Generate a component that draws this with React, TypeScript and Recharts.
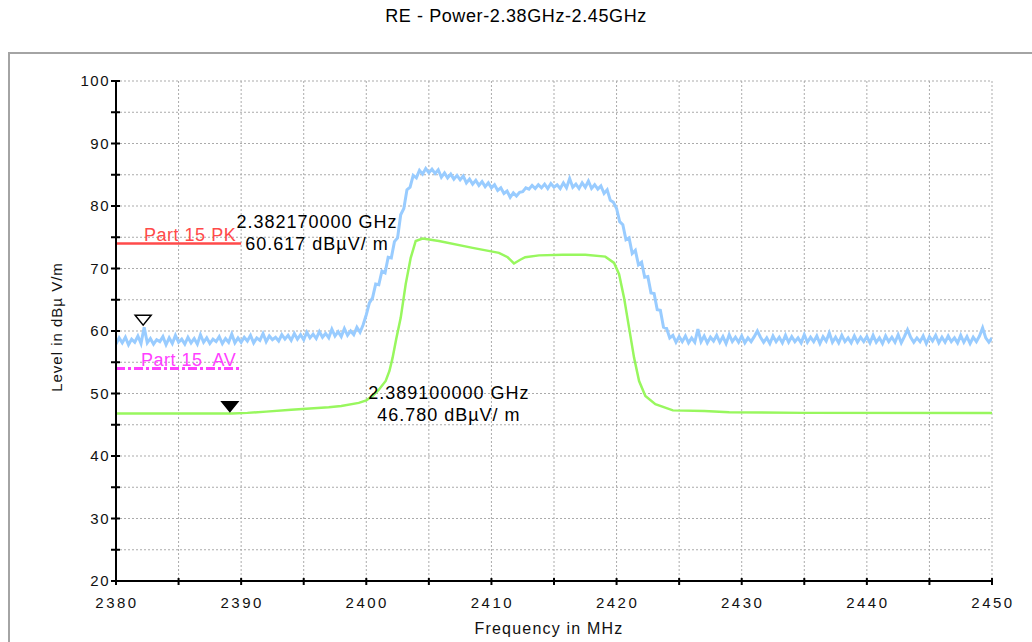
import React from 'react'
import {
  LineChart,
  Line,
  XAxis,
  YAxis,
  CartesianGrid,
  ReferenceLine,
  ReferenceDot
} from 'recharts'

// sweep grid of the peak detector trace
const FREQ_START = 2380
const FREQ_STEP = 0.25

// peak trace (dBµV/m), one value per 0.25 MHz, 2380 .. 2450
const PEAK_LEVELS = [
  57.9, 58.9, 58.1, 59.0, 57.8, 58.7, 58.2, 59.2,
  58.0, 60.6, 58.1, 58.8, 57.9, 58.6, 58.3, 59.1,
  57.8, 58.9, 58.0, 59.3, 58.2, 58.7, 57.9, 59.0,
  58.1, 58.8, 57.9, 59.4, 58.2, 58.9, 58.0, 58.7,
  58.3, 59.1, 58.0, 58.8, 58.2, 59.5, 58.1, 58.9,
  58.2, 59.0, 58.4, 59.3, 58.1, 58.9, 58.5, 59.6,
  58.3, 59.2, 58.6, 59.0, 58.4, 59.4, 58.7, 59.3,
  58.5, 59.6, 58.7, 59.4, 58.6, 59.8, 58.9, 59.5,
  58.8, 59.9, 59.0, 59.6, 58.9, 60.3, 59.2, 59.9,
  59.1, 60.4, 59.3, 60.0, 59.4, 60.6, 59.8, 61.0,
  62.6, 64.5, 65.3, 67.5, 67.4, 69.6, 69.3, 71.8,
  71.7, 74.3, 74.9, 78.6, 79.6, 82.6, 83.0, 84.9,
  84.5, 85.7, 85.1, 86.0, 85.3, 85.9, 85.2, 85.8,
  84.6, 85.3, 84.5, 85.1, 84.3, 84.9, 84.2, 84.8,
  83.7, 84.3, 83.5, 84.1, 83.3, 83.9, 83.1, 83.7,
  82.9, 83.4, 82.5, 82.9, 82.0, 82.4, 81.4, 82.1,
  81.6, 82.2, 82.3, 82.9, 82.7, 83.3, 82.8, 83.4,
  82.9, 83.5, 82.8, 83.6, 83.0, 83.4, 82.8, 83.7,
  82.9, 84.4, 83.0, 83.5, 82.8, 83.7, 83.0, 84.0,
  82.8, 83.4, 82.7, 83.2, 82.0, 82.6, 80.9, 80.6,
  79.6, 77.5, 77.0, 74.6, 74.9, 72.4, 72.9, 70.6,
  71.0, 68.6, 68.7, 66.1, 66.0, 63.4, 63.3, 60.6,
  60.4, 58.9, 59.3, 58.2, 59.1, 58.3, 59.2, 58.1,
  58.9, 58.2, 60.3, 58.3, 59.2, 58.1, 59.0, 58.4,
  59.3, 58.2, 59.1, 58.0, 59.4, 58.3, 59.0, 58.2,
  59.2, 58.1, 58.9, 58.3, 59.1, 60.0, 59.0, 58.2,
  58.9, 58.0, 59.2, 58.3, 59.0, 58.1, 59.3, 58.2,
  59.1, 58.3, 58.9, 58.1, 59.4, 58.2, 59.0, 58.3,
  59.2, 58.0, 59.1, 58.4, 59.7, 58.2, 59.0, 58.1,
  59.3, 58.3, 58.9, 58.1, 59.2, 58.2, 59.0, 58.3,
  59.1, 58.1, 59.3, 58.2, 58.9, 58.0, 59.2, 58.3,
  59.0, 58.2, 59.4, 58.1, 59.1, 60.2, 59.0, 58.2,
  58.9, 58.3, 59.2, 58.0, 59.1, 58.4, 59.3, 58.1,
  59.0, 58.2, 59.2, 58.3, 58.9, 58.1, 59.3, 58.2,
  59.1, 58.0, 59.0, 58.3, 59.2, 60.5, 58.9, 58.2,
  58.9
]

// average trace
const AVG_FREQ = [
  2380, 2389.3, 2390.5, 2392, 2394, 2395.5, 2397, 2398, 2399.4, 2400,
  2400.5, 2401, 2401.55, 2401.85, 2402.1, 2402.4, 2402.75, 2403.15, 2403.55, 2403.95,
  2404.5, 2405.8, 2408.5, 2410.6, 2411.3, 2411.8, 2412.3, 2412.7, 2413.8, 2415.7,
  2417.5, 2419.1, 2419.8, 2420.2, 2420.6, 2421.0, 2421.4, 2421.8, 2422.3, 2423.1,
  2424.5, 2427, 2429, 2435, 2450
]
const AVG_LEVEL = [
  46.8, 46.8, 46.9, 47.1, 47.4, 47.6, 47.8, 48.0, 48.5, 48.9,
  49.6, 50.6, 52.0, 53.6, 55.7, 58.8, 62.1, 67.5, 71.7, 74.4,
  74.8, 74.4, 73.3, 72.5, 71.8, 70.8, 71.4, 71.8, 72.1, 72.2,
  72.2, 71.9, 70.9, 69.1, 65.3, 60.5, 55.7, 52.0, 49.6, 48.3,
  47.3, 47.2, 47.0, 46.9, 46.9
]

const X_TICKS = [2380, 2385, 2390, 2395, 2400, 2405, 2410, 2415, 2420, 2425, 2430, 2435, 2440, 2445, 2450]
const Y_TICKS = [20, 25, 30, 35, 40, 45, 50, 55, 60, 65, 70, 75, 80, 85, 90, 95, 100]

const LIMIT_PK = 74
const LIMIT_AV = 54
const LIMIT_END = 2390

const MARKER_PK = { f: 2382.17, v: 60.617, text: ['2.382170000 GHz', '60.617 dBµV/ m'], at: { f: 2396.06, v: 77.44 } }
const MARKER_AV = { f: 2389.1, v: 46.78, text: ['2.389100000 GHz', '46.780 dBµV/ m'], at: { f: 2406.6, v: 50.08 } }

const FONT = 'Arial, "Liberation Sans", sans-serif'

const peakData = PEAK_LEVELS.map((v, i) => ({ f: FREQ_START + i * FREQ_STEP, v }))
const avgData = AVG_FREQ.map((f, i) => ({ f, v: AVG_LEVEL[i] }))

const XTick = (props: any) => {
  const { x, y, payload } = props
  const v = payload.value
  return (
    <g>
      <line x1={x} x2={x} y1={y - 3} y2={y + 4} stroke="#000" strokeWidth={2} />
      {v % 10 === 0 && (
        <text x={x + 1} y={y + 27} textAnchor="middle" fontSize={15} letterSpacing={2.5} fill="#111" fontFamily={FONT}>
          {v}
        </text>
      )}
    </g>
  )
}

const YTick = (props: any) => {
  const { x, y, payload } = props
  const v = payload.value
  return (
    <g>
      <line x1={x - 5} x2={x + 4} y1={y} y2={y} stroke="#000" strokeWidth={2} />
      {v % 10 === 0 && (
        <text x={x - 6} y={y + 5} textAnchor="end" fontSize={15} letterSpacing={1.5} fill="#111" fontFamily={FONT}>
          {v}
        </text>
      )}
    </g>
  )
}

const limitLabel = (text: string, color: string, dy: number) => (p: any) => {
  const vb = p.viewBox || {}
  return (
    <text
      x={vb.x + vb.width - 5}
      y={vb.y - dy}
      textAnchor="end"
      fontSize={18}
      letterSpacing={0.5}
      fill={color}
      fontFamily={FONT}
      style={{ whiteSpace: 'pre' }}
    >
      {text}
    </text>
  )
}

const triangle = (filled: boolean) => (p: any) => {
  const { cx, cy } = p
  return (
    <path
      d={`M${cx - 8},${cy - 12} L${cx + 8},${cy - 12} L${cx},${cy - 2} Z`}
      fill={filled ? '#000' : 'none'}
      stroke="#000"
      strokeWidth={1.5}
    />
  )
}

const markerText = (lines: string[]) => (p: any) => {
  const { cx, cy } = p
  return (
    <g>
      {lines.map((t, i) => (
        <text key={i} x={cx} y={cy + 6 + i * 22} textAnchor="middle" fontSize={18} letterSpacing={1} fill="#000" fontFamily={FONT}>
          {t}
        </text>
      ))}
    </g>
  )
}

export default function App() {
  return (
    <div style={{ position: 'absolute', left: 0, top: 0, width: 1032, height: 642, overflow: 'hidden', background: '#fff', fontFamily: FONT }}>
      <div style={{ position: 'absolute', left: 0, top: 6, width: 1032, textAlign: 'center', fontSize: 18, letterSpacing: 0.6, color: '#000' }}>
        RE - Power-2.38GHz-2.45GHz
      </div>
      <div
        style={{
          position: 'absolute',
          left: 8,
          top: 52,
          width: 1100,
          height: 700,
          borderTop: '2px solid #a4a4a4',
          borderLeft: '2px solid #a4a4a4'
        }}
      />
      <div
        style={{
          position: 'absolute',
          left: 57 - 100,
          top: 327 - 10,
          width: 200,
          height: 20,
          lineHeight: '20px',
          textAlign: 'center',
          fontSize: 15,
          letterSpacing: 1,
          transform: 'rotate(-90deg)',
          color: '#111'
        }}
      >
        Level in dBµ V/m
      </div>
      <div style={{ position: 'absolute', left: 549 - 150, top: 620, width: 300, textAlign: 'center', fontSize: 16, letterSpacing: 1.2, color: '#111' }}>
        Frequency in MHz
      </div>
      <div style={{ position: 'absolute', left: 0, top: 0 }}>
        <LineChart width={1032} height={642} margin={{ top: 81, right: 40, bottom: 31, left: 0 }}>
          <CartesianGrid stroke="#ababab" strokeDasharray="2 2" />
          <XAxis
            type="number"
            dataKey="f"
            domain={[2380, 2450]}
            ticks={X_TICKS}
            height={30}
            tickSize={0}
            tickMargin={0}
            tickLine={false}
            axisLine={{ stroke: '#000', strokeWidth: 2 }}
            tick={(p: any) => <XTick {...p} />}
            interval={0}
            allowDataOverflow
          />
          <YAxis
            type="number"
            domain={[20, 100]}
            ticks={Y_TICKS}
            width={116}
            tickSize={0}
            tickMargin={0}
            tickLine={false}
            axisLine={{ stroke: '#000', strokeWidth: 2 }}
            tick={(p: any) => <YTick {...p} />}
            interval={0}
            allowDataOverflow
          />
          <Line data={peakData} dataKey="v" stroke="#99ccff" strokeWidth={3} strokeLinejoin="miter" dot={false} isAnimationActive={false} type="linear" />
          <Line data={avgData} dataKey="v" stroke="#98f75e" strokeWidth={2.5} dot={false} isAnimationActive={false} type="linear" />
          <ReferenceLine
            segment={[{ x: 2380, y: LIMIT_PK }, { x: LIMIT_END, y: LIMIT_PK }]}
            stroke="#ff4a4a"
            strokeWidth={2.5}
            label={limitLabel('Part 15 PK', '#ff4a4a', 3)}
          />
          <ReferenceLine
            segment={[{ x: 2380, y: LIMIT_AV }, { x: LIMIT_END, y: LIMIT_AV }]}
            stroke="#ff40ff"
            strokeWidth={3}
            strokeDasharray="9 3 3 3"
            label={limitLabel('Part 15  AV', '#ff40ff', 3)}
          />
          <ReferenceDot x={MARKER_PK.f} y={MARKER_PK.v} r={0} shape={triangle(false)} />
          <ReferenceDot x={MARKER_AV.f} y={MARKER_AV.v} r={0} shape={triangle(true)} />
          <ReferenceDot x={MARKER_PK.at.f} y={MARKER_PK.at.v} r={0} shape={markerText(MARKER_PK.text)} />
          <ReferenceDot x={MARKER_AV.at.f} y={MARKER_AV.at.v} r={0} shape={markerText(MARKER_AV.text)} />
        </LineChart>
      </div>
    </div>
  )
}
